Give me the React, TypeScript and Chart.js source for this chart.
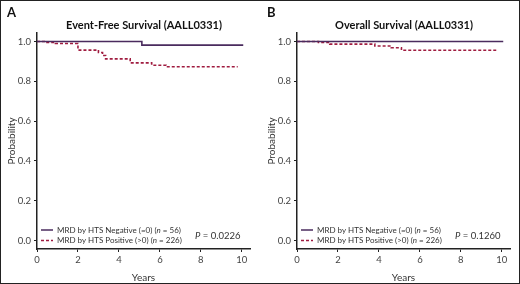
import React, { useEffect, useRef } from "react";
import { Chart, registerables } from "chart.js";
Chart.register(...registerables);

// ---- data ----
const yTicks = [0, 0.2, 0.4, 0.6, 0.8, 1.0];
const xTicks = [0, 2, 4, 6, 8, 10];

const efsNegTimes = [0, 5.12, 10.07];
const efsNegSurv = [1, 0.982, 0.982];
const efsPosTimes = [0, 0.4, 0.9, 2.0, 3.0, 3.2, 3.35, 4.55, 5.6, 6.3, 9.8];
const efsPosSurv = [1, 0.996, 0.99, 0.957, 0.945, 0.93, 0.913, 0.893, 0.881, 0.873, 0.873];

const osNegTimes = [0, 10.07];
const osNegSurv = [1, 1];
const osPosTimes = [0, 1.05, 1.6, 3.8, 4.6, 5.1, 9.8];
const osPosSurv = [1, 0.996, 0.987, 0.978, 0.969, 0.956, 0.956];

const negLabel = ["MRD by HTS Negative (=0) (", "n", " = 56)"];
const posLabel = ["MRD by HTS Positive (>0) (", "n", " = 226)"];

const NEG_COLOR = "#4a2b5e";
const POS_COLOR = "#a01c40";
const FONT = 'Lato, "Open Sans", sans-serif';

type PanelProps = {
  letter: string;
  title: string;
  pValue: string;
  negT: number[];
  negS: number[];
  posT: number[];
  posS: number[];
};

function Panel({ letter, title, pValue, negT, negS, posT, posS }: PanelProps) {
  const ref = useRef<HTMLCanvasElement | null>(null);
  useEffect(() => {
    if (!ref.current) return;
    const overlay = {
      id: "overlay",
      afterDraw(chart: any) {
        const ctx = chart.ctx;
        ctx.save();
        ctx.fillStyle = "#111";
        ctx.textBaseline = "middle";
        ctx.textAlign = "left";
        ctx.font = `bold 13px ${FONT}`;
        ctx.fillText(letter, 7, 13);
        ctx.textAlign = "center";
        ctx.font = `bold 11px ${FONT}`;
        ctx.fillText(title, 144, 25);
        // legend
        const rows = [
          { label: negLabel, color: NEG_COLOR, dash: [] as number[], y: 230 },
          { label: posLabel, color: POS_COLOR, dash: [3, 2], y: 240.5 },
        ];
        ctx.textAlign = "left";
        rows.forEach((r) => {
          ctx.strokeStyle = r.color;
          ctx.lineWidth = 1.5;
          ctx.setLineDash(r.dash);
          ctx.beginPath();
          ctx.moveTo(41, r.y);
          ctx.lineTo(53, r.y);
          ctx.stroke();
          ctx.setLineDash([]);
          ctx.fillStyle = "#333";
          let x = 57;
          r.label.forEach((part, i) => {
            ctx.font = i === 1 ? `italic 8px ${FONT}` : `8px ${FONT}`;
            ctx.fillText(part, x, r.y);
            x += ctx.measureText(part).width;
          });
        });
        // p value
        ctx.font = `italic 9.5px ${FONT}`;
        ctx.fillText("P", 195, 236);
        const pw = ctx.measureText("P").width;
        ctx.font = `9.5px ${FONT}`;
        ctx.fillText(" = " + pValue, 195 + pw, 236);
        ctx.restore();
      },
    };
    const chart = new Chart(ref.current, {
      type: "scatter",
      data: {
        datasets: [
          {
            label: "neg",
            data: negT.map((t, i) => ({ x: t, y: negS[i] })),
            showLine: true,
            stepped: true,
            borderColor: NEG_COLOR,
            borderWidth: 1.6,
            pointRadius: 0,
          },
          {
            label: "pos",
            data: posT.map((t, i) => ({ x: t, y: posS[i] })),
            showLine: true,
            stepped: true,
            borderColor: POS_COLOR,
            borderWidth: 1.6,
            borderDash: [3, 2],
            pointRadius: 0,
          },
        ],
      },
      options: {
        animation: false,
        responsive: false,
        layout: { padding: { top: 33, right: 10, left: 0, bottom: 0 } },
        plugins: { legend: { display: false }, tooltip: { enabled: false } },
        scales: {
          x: {
            type: "linear",
            min: 0,
            max: 10.4,
            afterBuildTicks: (s: any) => {
              s.ticks = xTicks.map((v) => ({ value: v }));
            },
            afterFit: (s: any) => {
              s.height = 35;
            },
            border: { display: true, color: "#222", width: 1.5 },
            grid: { drawOnChartArea: false, drawTicks: true, tickLength: 3, color: "#222" },
            ticks: { color: "#444", font: { family: FONT, size: 9.5 }, padding: 2 },
            title: { display: true, text: "Years", color: "#333", font: { family: FONT, size: 10 }, padding: { top: 1, bottom: 0 } },
          },
          y: {
            type: "linear",
            min: -0.043,
            max: 1.043,
            afterBuildTicks: (s: any) => {
              s.ticks = yTicks.map((v) => ({ value: v }));
            },
            afterFit: (s: any) => {
              s.width = 37;
            },
            border: { display: true, color: "#222", width: 1.5 },
            grid: { drawOnChartArea: false, drawTicks: true, tickLength: 3, color: "#222" },
            ticks: { color: "#444", font: { family: FONT, size: 9.5 }, padding: 3, callback: (v: any) => Number(v).toFixed(1) },
            title: { display: true, text: "Probability", color: "#333", font: { family: FONT, size: 10 }, padding: { top: 6, bottom: 0 } },
          },
        },
      },
      plugins: [overlay],
    });
    return () => chart.destroy();
  }, []);
  return <canvas ref={ref} width={260} height={284} style={{ display: "block", width: 260, height: 284 }} />;
}

export default function App() {
  useEffect(() => {
    document.body.style.margin = "0";
  }, []);
  return (
    <div style={{ position: "relative", width: 520, height: 284, background: "#fff" }}>
      <div style={{ position: "absolute", left: 0, top: 0 }}>
        <Panel letter="A" title="Event-Free Survival (AALL0331)" pValue="0.0226" negT={efsNegTimes} negS={efsNegSurv} posT={efsPosTimes} posS={efsPosSurv} />
      </div>
      <div style={{ position: "absolute", left: 260, top: 0 }}>
        <Panel letter="B" title="Overall Survival (AALL0331)" pValue="0.1260" negT={osNegTimes} negS={osNegSurv} posT={osPosTimes} posS={osPosSurv} />
      </div>
      <div style={{ position: "absolute", left: 0, top: 0, width: 520, height: 284, boxSizing: "border-box", border: "1px solid #222", pointerEvents: "none" }} />
    </div>
  );
}
